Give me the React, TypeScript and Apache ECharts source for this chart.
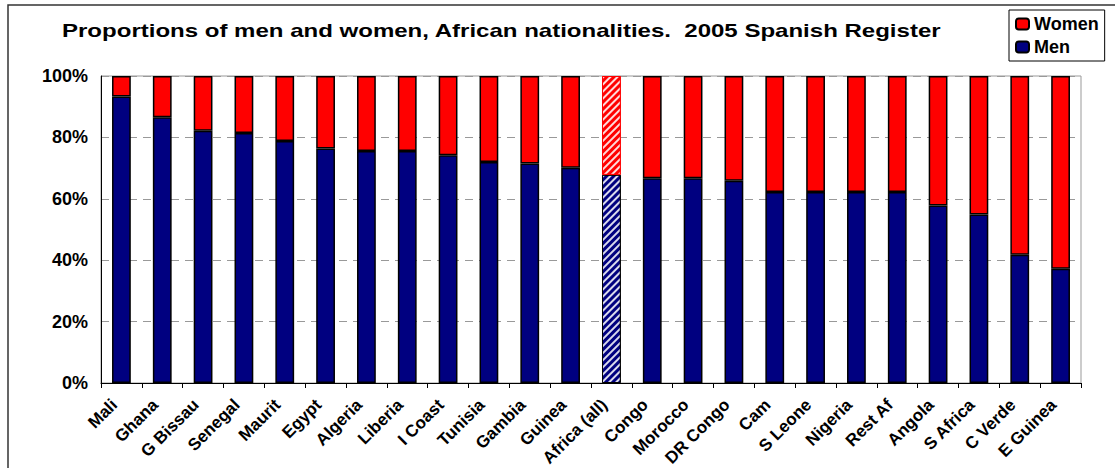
import React, { useEffect, useRef } from "react";
import * as echarts from "echarts";

// Nationalities, in the order they are plotted
const categories = [
  "Mali", "Ghana", "G Bissau", "Senegal", "Maurit", "Egypt", "Algeria", "Liberia",
  "I Coast", "Tunisia", "Gambia", "Guinea", "Africa (all)", "Congo", "Morocco",
  "DR Congo", "Cam", "S Leone", "Nigeria", "Rest Af", "Angola", "S Africa",
  "C Verde", "E Guinea",
];

// Share of men (%) per nationality
const menShare = [
  93.3, 86.6, 82.2, 81.4, 78.8, 76.4, 75.6, 75.6,
  74.2, 72.0, 71.5, 70.1, 67.8, 66.7, 66.7,
  65.9, 62.2, 62.2, 62.2, 62.2, 57.8, 54.9,
  41.8, 37.2,
];

// Share of women (%) is the remainder
const womenShare = menShare.map((m) => +(100 - m).toFixed(1));

const yTicks = [0, 20, 40, 60, 80, 100];

const TITLE = "Proportions of men and women, African nationalities.  2005 Spanish Register";
const TOTAL_LABEL = "Africa (all)";
const FONT = "'Liberation Sans', Arial, sans-serif";
const NAVY = "#000080";
const RED = "#ff0000";

// White diagonal stripes for the all-Africa bar
const stripes = {
  symbol: "rect",
  color: "rgba(255,255,255,0.85)",
  dashArrayX: [1, 0],
  dashArrayY: [2, 3],
  rotation: -Math.PI / 4,
};

export default function App() {
  const ref = useRef<HTMLDivElement>(null);

  useEffect(() => {
    document.body.style.margin = "0";
    const chart = echarts.init(ref.current!, null, { renderer: "svg" });

    const menData = menShare.map((v, i) =>
      categories[i] === TOTAL_LABEL
        ? { value: v, itemStyle: { decal: stripes, borderColor: "#000", borderWidth: 1 } }
        : v
    );
    const womenData = womenShare.map((v, i) =>
      categories[i] === TOTAL_LABEL
        ? { value: v, itemStyle: { decal: stripes, borderColor: RED, borderWidth: 1 } }
        : v
    );

    chart.setOption({
      animation: false,
      backgroundColor: "#fff",
      textStyle: { fontFamily: FONT },
      legend: {
        data: ["Women", "Men"],
        orient: "vertical",
        left: 1009,
        top: 10,
        width: 98,
        padding: [5, 6, 5, 6],
        itemWidth: 13,
        itemHeight: 11,
        itemGap: 5,
        borderColor: "#000",
        borderWidth: 1,
        textStyle: { fontFamily: FONT, fontSize: 18, fontWeight: "bold", color: "#000" },
      },
      graphic: [
        {
          type: "rect",
          shape: { x: 8, y: 5, width: 1200, height: 600 },
          style: { fill: "none", stroke: "#333", lineWidth: 1.5 },
          silent: true,
          z: -1,
        },
        {
          type: "text",
          x: 62,
          y: 31,
          scaleX: 1.335,
          style: {
            text: TITLE,
            fontFamily: FONT,
            fontSize: 18,
            fontWeight: "bold",
            fill: "#000",
            verticalAlign: "middle",
          },
        },
      ],
      grid: {
        left: 101,
        right: 34,
        top: 76,
        bottom: 85,
        outerBoundsMode: "none",
        containLabel: false,
        show: true,
        borderColor: "#999",
        borderWidth: 1,
        backgroundColor: "#fff",
      },
      xAxis: {
        type: "category",
        data: categories,
        axisLine: { lineStyle: { color: "#000", width: 1 } },
        axisTick: { show: true, alignWithLabel: false, length: 5, lineStyle: { color: "#000" } },
        axisLabel: {
          rotate: 45,
          interval: 0,
          margin: 12,
          padding: [0, 10, 0, 0],
          fontFamily: FONT,
          fontSize: 17,
          fontWeight: "bold",
          color: "#000",
        },
      },
      yAxis: {
        type: "value",
        min: yTicks[0],
        max: yTicks[yTicks.length - 1],
        interval: 20,
        axisLine: { show: true, lineStyle: { color: "#000", width: 1 } },
        axisTick: { show: false },
        axisLabel: {
          formatter: "{value}%",
          margin: 13,
          fontFamily: FONT,
          fontSize: 18,
          fontWeight: "bold",
          color: "#000",
        },
        splitLine: { lineStyle: { color: "#999", type: [8, 6], width: 1 } },
      },
      series: [
        {
          name: "Men",
          type: "bar",
          stack: "total",
          barWidth: "46%",
          data: menData,
          itemStyle: { color: NAVY, borderColor: "#000", borderWidth: 1.5 },
        },
        {
          name: "Women",
          type: "bar",
          stack: "total",
          barWidth: "46%",
          data: womenData,
          itemStyle: { color: RED, borderColor: "#000", borderWidth: 1.5 },
        },
      ],
    });

    return () => chart.dispose();
  }, []);

  return <div ref={ref} style={{ width: 1115, height: 468 }} />;
}
